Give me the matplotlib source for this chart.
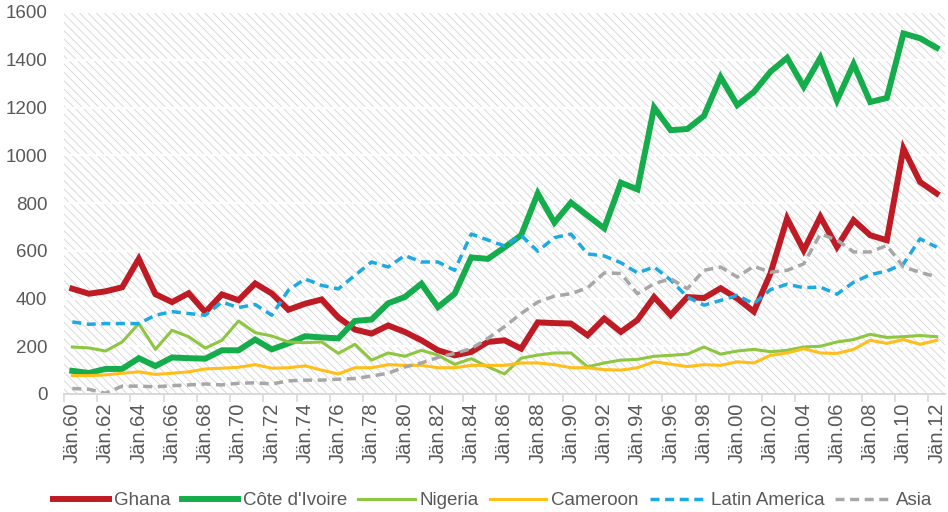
import matplotlib
matplotlib.use("Agg")
import matplotlib.pyplot as plt
from matplotlib.patches import Rectangle
import numpy as np

years = list(range(1960, 2013))
tick_labels = ["Jän.%02d" % (y % 100) for y in years[::2]]

ghana = [441, 420, 430, 447, 566, 418, 385, 422, 343, 417,
         393, 463, 421, 353, 378, 396, 321, 270, 253, 287,
         260, 225, 183, 162, 176, 218, 225, 190, 300, 297,
         295, 246, 316, 260, 310, 406, 330, 406, 402, 443,
         400, 345, 505, 735, 602, 742, 616, 728, 665, 644,
         1028, 888, 840]
cote_ivoire = [97, 88, 105, 105, 150, 117, 153, 150, 148, 183,
               183, 228, 187, 212, 242, 237, 233, 306, 312, 380,
               406, 462, 364, 420, 572, 566, 614, 665, 840, 718,
               802, 747, 694, 885, 857, 1200, 1105, 1110, 1165, 1327,
               1210, 1265, 1350, 1408, 1287, 1408, 1230, 1382, 1223, 1240,
               1510, 1490, 1450]
nigeria = [197, 193, 180, 218, 295, 187, 267, 240, 192, 225,
           306, 257, 243, 218, 215, 218, 170, 208, 142, 172,
           158, 183, 163, 124, 148, 114, 84, 150, 163, 172,
           172, 114, 130, 142, 145, 158, 162, 167, 197, 167,
           180, 187, 177, 183, 197, 200, 218, 228, 250, 237,
           240, 245, 240]
cameroon = [77, 77, 80, 87, 93, 82, 87, 93, 105, 108,
            112, 123, 108, 110, 118, 100, 84, 110, 110, 123,
            120, 120, 110, 110, 120, 120, 120, 130, 130, 123,
            110, 110, 102, 100, 110, 135, 125, 115, 123, 120,
            135, 130, 162, 172, 190, 172, 170, 187, 225, 212,
            228, 208, 225]
latin_america = [302, 292, 295, 295, 295, 330, 345, 337, 330, 385,
                 362, 375, 330, 435, 482, 455, 440, 497, 553, 532,
                 580, 553, 553, 518, 670, 645, 620, 665, 598, 655,
                 670, 587, 578, 550, 507, 532, 477, 406, 372, 392,
                 413, 378, 437, 460, 445, 448, 418, 468, 500, 515,
                 545, 650, 615]
asia = [23, 20, 3, 33, 33, 30, 35, 38, 42, 38,
        45, 47, 42, 55, 58, 58, 62, 65, 75, 87,
        113, 130, 153, 170, 190, 233, 282, 337, 385, 410,
        420, 445, 507, 505, 420, 462, 483, 441, 518, 532,
        490, 535, 510, 518, 545, 670, 645, 595, 595, 622,
        532, 510, 490]

plt.rcParams['font.family'] = ['Liberation Sans', 'DejaVu Sans']
plt.rcParams['hatch.linewidth'] = 0.6

fig = plt.figure(figsize=(9.48, 5.12), dpi=100)
ax = fig.add_axes([64/948, 118/512, (945-64)/948, (394-12)/512])

x = np.arange(len(years))
ax.add_patch(Rectangle((0, 0), 1, 1, transform=ax.transAxes, facecolor='white',
                       edgecolor='#D4D4D4', hatch='\\\\\\\\', lw=0, zorder=0))
ax.patch.set_visible(False)

ax.plot(x, ghana, color='#BE1B24', lw=4.3, label='Ghana', solid_joinstyle='miter')
ax.plot(x, cote_ivoire, color='#15AC4B', lw=4.3, label="Côte d'Ivoire", solid_joinstyle='miter')
ax.plot(x, nigeria, color='#8DC641', lw=2.2, label='Nigeria')
ax.plot(x, cameroon, color='#FFBE1A', lw=2.2, label='Cameroon')
ax.plot(x, latin_america, color='#1DAAE2', lw=2.5, ls=(0, (2.6, 1.6)), label='Latin America')
ax.plot(x, asia, color='#A8A6A6', lw=2.5, ls=(0, (2.6, 1.6)), label='Asia')

ax.set_xlim(-0.5, len(years) - 0.5)
ax.set_ylim(0, 1600)
ax.set_yticks(range(0, 1601, 200))
ax.set_xticks(x[::2])
ax.set_xticklabels(tick_labels, rotation=90)
ax.set_xticks(np.arange(-0.5, len(years) - 0.5, 2), minor=True)
ax.tick_params(axis='x', which='major', length=0, pad=6, labelsize=14.5, labelcolor='#595959')
ax.tick_params(axis='x', which='minor', length=6, width=1.2, color='#D9D9D9')
ax.tick_params(axis='y', length=0, pad=12, labelsize=13.5, labelcolor='#595959')

ax.set_axisbelow(True)
ax.yaxis.grid(True, color='white', lw=1.6)
for s in ['top', 'right', 'left']:
    ax.spines[s].set_visible(False)
ax.spines['bottom'].set_color('#D9D9D9')
ax.spines['bottom'].set_linewidth(1.5)

fig.legend(loc='center', bbox_to_anchor=(0.52, 0.022), ncol=6, frameon=False,
           fontsize=13.5, handlelength=3.0, handletextpad=0.25, columnspacing=0.6,
           labelcolor='#595959')

fig.savefig('out.png', dpi=100)
